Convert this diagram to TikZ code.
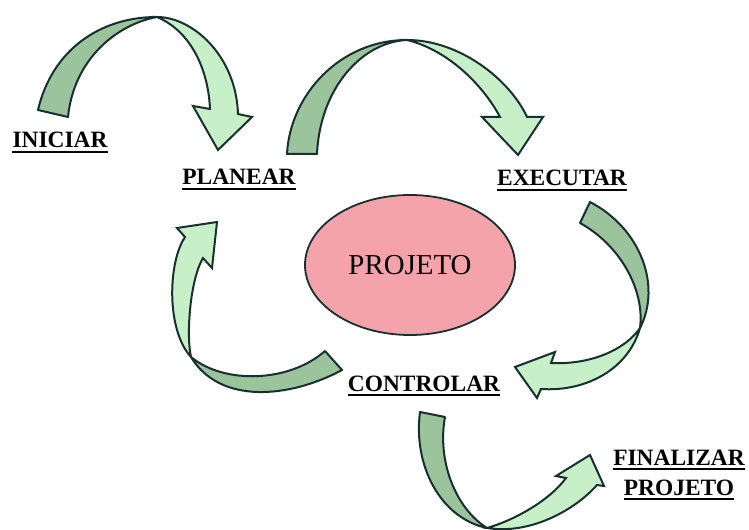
\documentclass[tikz,border=0pt]{standalone}
\usepackage{fontspec}
\setmainfont{Liberation Serif}
\usetikzlibrary{shapes.geometric}
\definecolor{gdark}{HTML}{9CC49C}
\definecolor{glight}{HTML}{C8F0C8}
\definecolor{edgec}{HTML}{17302F}
\definecolor{pinkfill}{HTML}{F5A3AB}
\begin{document}
\begin{tikzpicture}[x=1bp,y=-1bp,
  back/.style={fill=gdark,draw=edgec,line width=2bp,line join=round},
  front/.style={fill=glight,draw=edgec,line width=2bp,line join=miter},
  lbl/.style={font=\fontsize{23.5}{27}\selectfont\bfseries,inner sep=0pt,anchor=base},
  uline/.style={draw=black,line width=1.4bp}]
\useasboundingbox (0,0) rectangle (749,530);

% ellipse
\node[ellipse,fill=pinkfill,draw=edgec,line width=1.8bp,minimum width=210bp,minimum height=140bp,inner sep=0pt,
  font=\fontsize{29}{32}\selectfont] (proj) at (410,265) {PROJETO};

% arrow 1: INICIAR -> PLANEAR
\filldraw[back] (38,110) .. controls (52,50) and (100,17) .. (157,17)
  .. controls (118,24) and (74,58) .. (68,117) -- cycle;
\filldraw[front] (157,17) .. controls (192,17) and (236,55) .. (238,114)
  -- (252,117) -- (218,150) -- (193,106) -- (210,109)
  .. controls (208,65) and (188,30) .. (157,17) -- cycle;

% arrow 2: PLANEAR -> EXECUTAR
\filldraw[back] (287,154) .. controls (290,95) and (340,40) .. (407,40)
  .. controls (362,42) and (320,88) .. (317,154) -- cycle;
\filldraw[front] (407,40) .. controls (460,40) and (510,80) .. (527,117)
  -- (543,117) -- (518,155) -- (482,117) -- (500,117)
  .. controls (483,85) and (448,50) .. (407,40) -- cycle;

% arrow 3: EXECUTAR -> CONTROLAR
\filldraw[back] (590,202) .. controls (640,228) and (662,285) .. (640,328)
  .. controls (645,290) and (620,245) .. (580,223) -- cycle;
\filldraw[front] (640,328) .. controls (628,370) and (585,392) .. (541,389)
  -- (537,398) -- (515,367) -- (555,352) -- (551,363)
  .. controls (590,365) and (625,350) .. (640,328) -- cycle;

% arrow 4: CONTROLAR -> PLANEAR
\filldraw[back] (342,370) .. controls (290,398) and (220,405) .. (191,357)
  .. controls (225,385) and (290,382) .. (325,351) -- cycle;
\filldraw[front] (191,357) .. controls (166,330) and (168,262) .. (185,237)
  -- (177,228) -- (217,222) -- (212,268) -- (203,258)
  .. controls (190,280) and (186,335) .. (191,357) -- cycle;

% arrow 5: CONTROLAR -> FINALIZAR PROJETO
\filldraw[back] (420,412) .. controls (413,465) and (440,518) .. (487,528)
  .. controls (455,508) and (437,460) .. (445,417) -- cycle;
\filldraw[front] (487,528) .. controls (530,535) and (575,510) .. (597,485)
  -- (604,486) -- (590,455) -- (556,476) -- (566,478)
  .. controls (550,500) and (515,520) .. (487,528) -- cycle;

% labels
\node[lbl] (ini) at (60,148) {INICIAR};
\node[lbl] (pla) at (239,185) {PLANEAR};
\node[lbl] (exe) at (562,186) {EXECUTAR};
\node[lbl] (con) at (424,391) {CONTROLAR};
\node[lbl] (fin) at (679,465) {FINALIZAR};
\node[lbl] (fpr) at (679,495) {PROJETO};
\foreach \n in {ini,pla,exe,con,fin,fpr}
  \draw[uline] ([yshift=-4bp]\n.base west) -- ([yshift=-4bp]\n.base east);
\end{tikzpicture}
\end{document}
